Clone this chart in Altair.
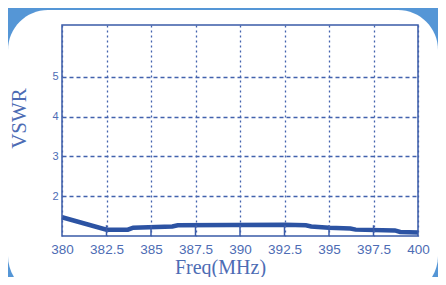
import altair as alt
import pandas as pd

# ---- data ----
freq = [380, 382.5, 383.7, 384.0, 386.2, 386.5, 392.5, 393.7, 394.0, 395.0, 396.2, 396.5, 398.7, 399.0, 400]
vswr = [1.47, 1.16, 1.16, 1.21, 1.24, 1.27, 1.28, 1.27, 1.24, 1.21, 1.19, 1.16, 1.14, 1.10, 1.09]
x_ticks = [380, 382.5, 385, 387.5, 390, 392.5, 395, 397.5, 400]
y_ticks = [2, 3, 4, 5]
inner_ticks = [382.5, 385, 387.5, 390, 392.5, 395, 397.5]

X_DOMAIN = [380, 400]
Y_DOMAIN = [1, 6.3]

TEXT = "#4d6cb4"
LINE = "#2c53a3"
GRID = "#4262ad"
FRAME = "#3a5ba8"
BLUE = "#5596d6"

W, H = 356, 211

df = pd.DataFrame({"freq": freq, "vswr": vswr})
ticks_df = pd.DataFrame({"f": inner_ticks})

xscale = alt.Scale(domain=X_DOMAIN, nice=False, zero=False)
yscale = alt.Scale(domain=Y_DOMAIN, nice=False, zero=False)

# white rounded card behind everything
card = alt.Chart(alt.Data(values=[{}])).mark_rect(
    fill="white", cornerRadius=40, clip=False
).encode(
    x=alt.value(-54), x2=alt.value(W + 20),
    y=alt.value(-15), y2=alt.value(H + 60),
)

line = alt.Chart(df).mark_line(color=LINE, strokeWidth=4.5, strokeJoin="miter").encode(
    x=alt.X("freq:Q", scale=xscale,
            axis=alt.Axis(values=x_ticks, format=".1~f", title="Freq(MHz)",
                          grid=True, gridDash=[2, 3], gridColor=GRID, gridWidth=1.3,
                          gridOpacity=1,
                          domain=False, ticks=False, labelFlush=False,
                          labelFont="Liberation Sans", labelFontSize=13.5, labelColor=TEXT,
                          labelPadding=6,
                          titleFont="Liberation Serif", titleFontSize=20, titleFontWeight="normal",
                          titleColor=TEXT, titleX=158, titleY=37, titleBaseline="alphabetic",
                          zindex=1)),
    y=alt.Y("vswr:Q", scale=yscale,
            axis=alt.Axis(values=y_ticks, title="VSWR",
                          grid=True, gridDash=[4, 3], gridColor=GRID, gridWidth=1.3,
                          gridOpacity=1,
                          domain=False, ticks=False,
                          labelFont="Liberation Sans", labelFontSize=11, labelColor=TEXT,
                          labelPadding=4,
                          titleFont="Liberation Serif", titleFontSize=21, titleFontWeight="normal",
                          titleColor=TEXT, titleX=-43, titleY=93, titleAngle=-90,
                          titleAlign="center", titleBaseline="middle", titleLimit=300,
                          zindex=1)),
)

inner = alt.Chart(ticks_df).mark_rule(color=FRAME, strokeWidth=1.5).encode(
    x=alt.X("f:Q", scale=xscale),
    y=alt.Y(datum=1, scale=yscale),
    y2=alt.Y2(datum=1.27),
)

frame = alt.Chart(alt.Data(values=[{}])).mark_rect(
    filled=False, stroke=FRAME, strokeWidth=1.5
).encode(
    x=alt.X(datum=380, scale=xscale), x2=alt.X2(datum=400),
    y=alt.Y(datum=1, scale=yscale), y2=alt.Y2(datum=6.3),
)

chart = alt.layer(card, line, inner, frame).properties(
    width=W, height=H,
    autosize=alt.AutoSizeParams(type="none"),
    padding={"left": 54, "top": 17, "right": 20, "bottom": 41},
    background=BLUE,
).configure_view(stroke=None)

chart.save("out.html", embed_options={"renderer": "svg", "actions": False})
